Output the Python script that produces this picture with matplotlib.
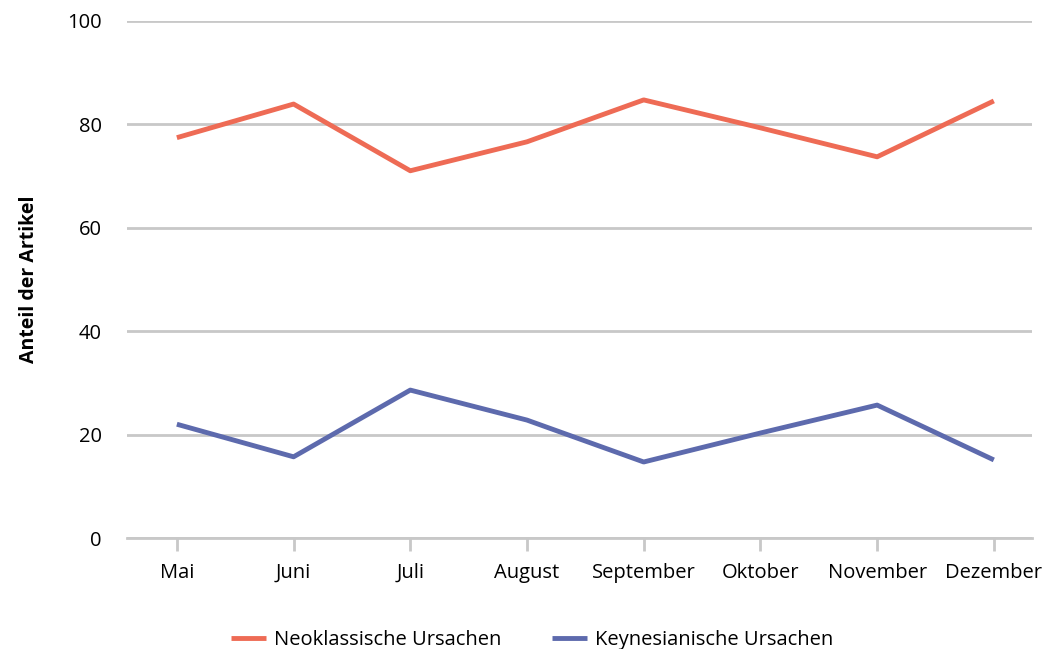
import matplotlib.pyplot as plt

plt.rcParams['font.family'] = ['Open Sans', 'DejaVu Sans']

monate = ['Mai', 'Juni', 'Juli', 'August', 'September', 'Oktober', 'November', 'Dezember']
neoklassisch = [77.4, 83.9, 71.0, 76.6, 84.7, 79.3, 73.7, 84.5]
keynesianisch = [22.0, 15.7, 28.6, 22.8, 14.7, 20.3, 25.7, 15.1]

fig = plt.figure(figsize=(10.47, 6.49), dpi=100)
ax = fig.add_axes([0.121, 0.171, 0.865, 0.797])

x = range(len(monate))
ax.plot(x, neoklassisch, color='#EE6B55', lw=3.5, label='Neoklassische Ursachen', solid_capstyle='butt')
ax.plot(x, keynesianisch, color='#5D6AAD', lw=3.5, label='Keynesianische Ursachen', solid_capstyle='butt')

ax.set_ylim(0, 100)
ax.set_xlim(-0.43, 7.33)
ax.set_yticks([0, 20, 40, 60, 80, 100])
ax.set_xticks(list(x))
ax.set_xticklabels(monate)
ax.yaxis.grid(True, color='#C8C8C8', lw=2)
ax.set_axisbelow(True)
for s in ['top', 'right', 'left']:
    ax.spines[s].set_visible(False)
ax.spines['bottom'].set_color('#C8C8C8')
ax.spines['bottom'].set_linewidth(2)
ax.tick_params(axis='y', length=0, pad=18, labelsize=14.5)
ax.tick_params(axis='x', length=9, width=2, color='#C8C8C8', pad=9, labelsize=14.5)

ax.set_ylabel('Anteil der Artikel', fontsize=14, fontweight='bold', labelpad=20)

fig.legend(loc='lower center', bbox_to_anchor=(0.508, -0.03), ncol=2, frameon=False,
           fontsize=14.5, handlelength=1.75, handletextpad=0.4, columnspacing=2.5)

fig.savefig('out.png', dpi=100, facecolor='white')
